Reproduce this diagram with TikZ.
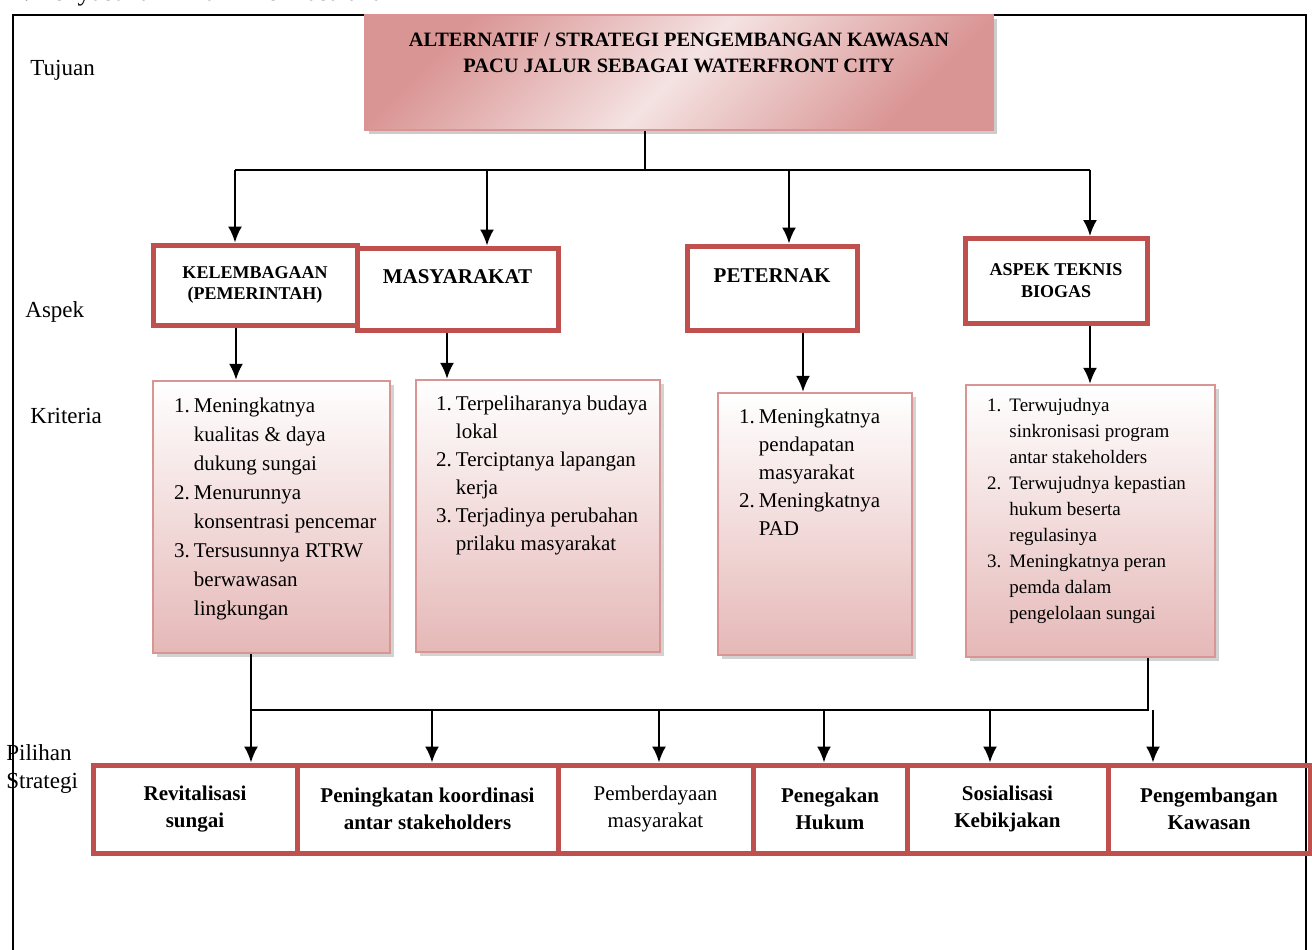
\documentclass[tikz,border=0pt]{standalone}
\usepackage{fontspec}
\setmainfont{Liberation Serif}
\usepackage{xcolor}
\usetikzlibrary{positioning,shadows,arrows.meta}
\definecolor{merah}{HTML}{C0504D}
\definecolor{merahmuda}{HTML}{D99594}
\definecolor{pinkmuda}{HTML}{F2DBDB}
\definecolor{pinktua}{HTML}{E5B8B7}

\begin{document}
\begin{tikzpicture}
	[x=0.5pt,y=-0.5pt,>={Latex[length=8pt,width=7pt]},
	panah/.style={->,line width=1pt},
	garis/.style={line width=1pt},
	judulkotak/.style={draw=merahmuda,line width=1pt,left color=merahmuda,right color=merahmuda,middle color=pinkmuda!80!white,shading angle=45,drop shadow={shadow xshift=2pt,shadow yshift=-2pt,fill=black!40}},
	aspek/.style={draw=merah,line width=2.5pt,fill=white,align=center,font=\bfseries\fontsize{10.5}{12.5}\selectfont},
	kriteria/.style={draw=merahmuda,line width=1.2pt,top color=white,bottom color=pinktua,drop shadow={shadow xshift=2pt,shadow yshift=-2pt,fill=black!35}},
	butirteks/.style={anchor=north west,inner sep=0pt,font=\fontsize{10.5}{14.5}\selectfont},
	pilihan/.style={draw=merah,line width=2.5pt,minimum height=44pt,align=center,font=\bfseries\fontsize{10.5}{13.5}\selectfont},
	level/.style={anchor=west,inner sep=0pt,font=\fontsize{11.5}{14}\selectfont}]
	\useasboundingbox (0,0) rectangle (1312,949);
	
	% bingkai halaman
	\node[anchor=base west,inner sep=0pt,font=\fontsize{13}{15}\selectfont] (bab) at (10,0) {1. Penyusunan Hirarki Permasalahan};
	\draw[line width=1pt] (13,960) -- (13,15) -- (1306,15) -- (1306,960);
	
	% tingkat
	\node[level] (ltujuan) at (30,70) {Tujuan};
	\node[level] (laspek) at (25,312) {Aspek};
	\node[level] (lkriteria) at (30,416) {Kriteria};
	\node[level,align=left] (lpilihan) at (6,769) {Pilihan\\Strategi};
	
	% tujuan
	\node[judulkotak,minimum width=314pt,minimum height=57.5pt] (tujuan) at (679,72.5) {};
	\node[font=\bfseries\fontsize{10.2}{13}\selectfont,align=center] (tujuanteks) at (679,53)
		{ALTERNATIF / STRATEGI PENGEMBANGAN KAWASAN\\PACU JALUR SEBAGAI WATERFRONT CITY};
	
	% aspek
	\node[aspek,minimum width=102pt,minimum height=40pt,font=\bfseries\fontsize{9}{10.5}\selectfont] (kelembagaan) at (255,285) {KELEMBAGAAN\\(PEMERINTAH)};
	\node[aspek,minimum width=100.5pt,minimum height=41pt,text depth=12pt] (masyarakat) at (457.5,289) {MASYARAKAT};
	\node[aspek,minimum width=85pt,minimum height=42pt,text depth=12pt] (peternak) at (772,288) {PETERNAK};
	\node[aspek,minimum width=91pt,minimum height=42.5pt,font=\bfseries\fontsize{9}{11}\selectfont] (teknis) at (1056,281) {ASPEK TEKNIS\\BIOGAS};
	
	% kriteria
	\node[kriteria,minimum width=118.5pt,minimum height=136pt] (krit1) at (271.5,517) {};
	\node[kriteria,minimum width=122pt,minimum height=136pt] (krit2) at (538,516) {};
	\node[kriteria,minimum width=97pt,minimum height=131pt] (krit3) at (815,524) {};
	\node[kriteria,minimum width=124.5pt,minimum height=136pt] (krit4) at (1090.5,521) {};
	
	\node[butirteks] (krit1teks) at ([shift={(22,12)}]krit1.north west)
		{\begin{tabular}{@{}r@{\hspace{2pt}}l@{}}
			1. & Meningkatnya\\
			   & kualitas \& daya\\
			   & dukung sungai\\
			2. & Menurunnya\\
			   & konsentrasi pencemar\\
			3. & Tersusunnya RTRW\\
			   & berwawasan\\
			   & lingkungan
		\end{tabular}};
	\node[butirteks,font=\fontsize{10.5}{14}\selectfont] (krit2teks) at ([shift={(21,12)}]krit2.north west)
		{\begin{tabular}{@{}r@{\hspace{2pt}}l@{}}
			1. & Terpeliharanya budaya\\
			   & lokal\\
			2. & Terciptanya lapangan\\
			   & kerja\\
			3. & Terjadinya perubahan\\
			   & prilaku masyarakat
		\end{tabular}};
	\node[butirteks,font=\fontsize{10.5}{14}\selectfont] (krit3teks) at ([shift={(22,12)}]krit3.north west)
		{\begin{tabular}{@{}r@{\hspace{2pt}}l@{}}
			1. & Meningkatnya\\
			   & pendapatan\\
			   & masyarakat\\
			2. & Meningkatnya\\
			   & PAD
		\end{tabular}};
	\node[butirteks,font=\fontsize{9.5}{13}\selectfont] (krit4teks) at ([shift={(22,9)}]krit4.north west)
		{\begin{tabular}{@{}r@{\hspace{4pt}}l@{}}
			1. & Terwujudnya\\
			   & sinkronisasi program\\
			   & antar stakeholders\\
			2. & Terwujudnya kepastian\\
			   & hukum beserta\\
			   & regulasinya\\
			3. & Meningkatnya peran\\
			   & pemda dalam\\
			   & pengelolaan sungai
		\end{tabular}};
	
	% pilihan strategi
	\node[pilihan,minimum width=102pt] (revitalisasi) at (195,809) {Revitalisasi\\sungai};
	\node[pilihan,minimum width=130.5pt] (koordinasi) at (427.5,809) {Peningkatan koordinasi\\antar stakeholders};
	\node[pilihan,minimum width=97.5pt,font=\fontsize{10.5}{13.5}\selectfont] (pemberdayaan) at (655.5,809) {Pemberdayaan\\masyarakat};
	\node[pilihan,minimum width=77pt] (hukum) at (830,809) {Penegakan\\Hukum};
	\node[pilihan,minimum width=100.5pt] (sosialisasi) at (1007.5,809) {Sosialisasi\\Kebikjakan};
	\node[pilihan,minimum width=101pt] (kawasan) at (1209,809) {Pengembangan\\Kawasan};
	
	% tujuan -> aspek
	\coordinate (cabang) at (645,170);
	\coordinate (c1) at (235,170);
	\coordinate (c2) at (487,170);
	\coordinate (c3) at (789,170);
	\coordinate (c4) at (1090,170);
	\draw[garis] (tujuan.south -| cabang) -- (cabang);
	\draw[garis] (c1) -- (c4);
	\draw[panah] (c1) -- (c1 |- kelembagaan.north);
	\draw[panah] (c2) -- (c2 |- masyarakat.north);
	\draw[panah] (c3) -- (c3 |- peternak.north);
	\draw[panah] (c4) -- (c4 |- teknis.north);
	
	% aspek -> kriteria
	\coordinate (a1) at (236,0);
	\coordinate (a2) at (447,0);
	\coordinate (a3) at (803,0);
	\coordinate (a4) at (1090,0);
	\draw[panah] (kelembagaan.south -| a1) -- (a1 |- krit1.north);
	\draw[panah] (masyarakat.south -| a2) -- (a2 |- krit2.north);
	\draw[panah] (peternak.south -| a3) -- (a3 |- krit3.north);
	\draw[panah] (teknis.south -| a4) -- (a4 |- krit4.north);
	
	% kriteria -> pilihan strategi
	\coordinate (g1) at (251,710);
	\coordinate (g2) at (1148,710);
	\draw[garis] (krit1.south -| g1) -- (g1) -- (g2) -- (krit4.south -| g2);
	\coordinate (p2) at (432,710);
	\coordinate (p3) at (659,710);
	\coordinate (p4) at (824,710);
	\coordinate (p5) at (990,710);
	\coordinate (p6) at (1153,710);
	\draw[panah] (g1) -- (g1 |- revitalisasi.north);
	\draw[panah] (p2) -- (p2 |- koordinasi.north);
	\draw[panah] (p3) -- (p3 |- pemberdayaan.north);
	\draw[panah] (p4) -- (p4 |- hukum.north);
	\draw[panah] (p5) -- (p5 |- sosialisasi.north);
	\draw[panah] (p6) -- (p6 |- kawasan.north);
\end{tikzpicture}
\end{document}
